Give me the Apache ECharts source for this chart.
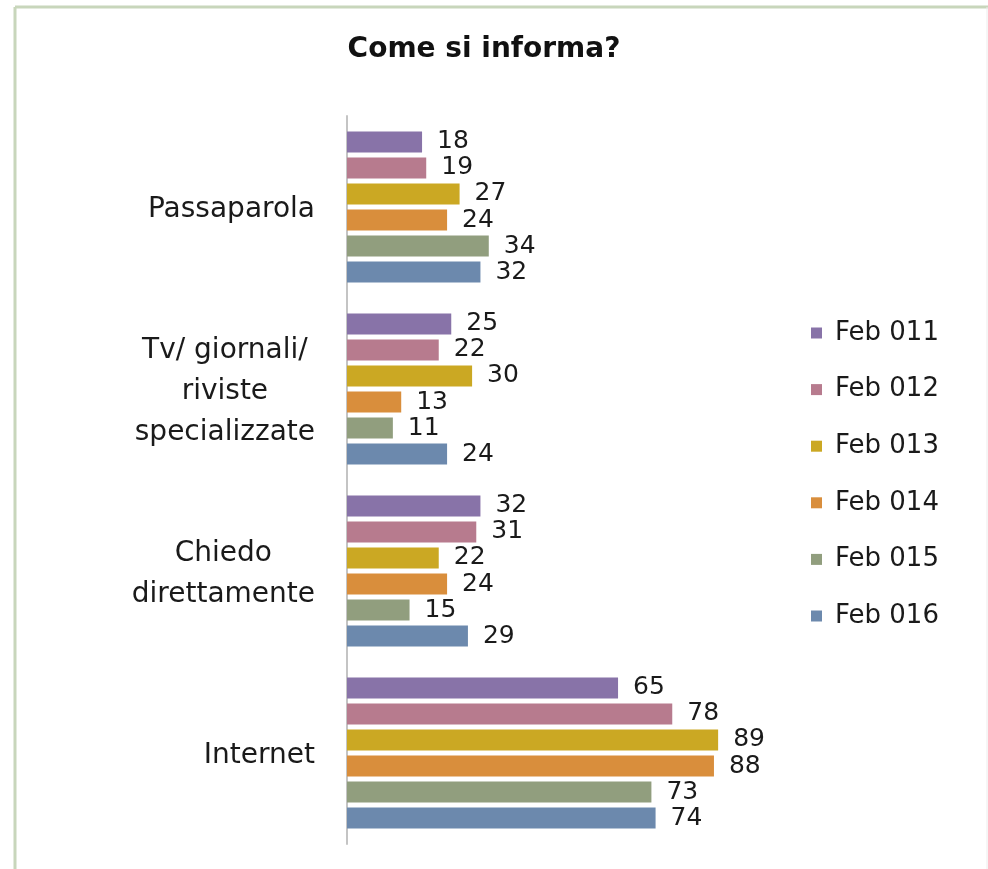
<!DOCTYPE html>
<html lang="it">
<head>
    <meta charset="UTF-8">
    <title>Come si informa?</title>
    <script src="https://cdn.jsdelivr.net/npm/echarts@6/dist/echarts.min.js"></script>
    <style>
        html, body {
            margin: 0;
            padding: 0;
            background: #fff;
        }
    </style>
</head>
<body>
<div id="main" style="width: 988px;height: 869px"></div>
<script>
    // dati
    var categorie = ['Passaparola', 'Tv/ giornali/\nriviste\nspecializzate', 'Chiedo\ndirettamente', 'Internet'];
    var serieNomi = ['Feb 011', 'Feb 012', 'Feb 013', 'Feb 014', 'Feb 015', 'Feb 016'];
    var feb011 = [18, 25, 32, 65];
    var feb012 = [19, 22, 31, 78];
    var feb013 = [27, 30, 22, 89];
    var feb014 = [24, 13, 24, 88];
    var feb015 = [34, 11, 15, 73];
    var feb016 = [32, 24, 29, 74];
    var valori = [feb011, feb012, feb013, feb014, feb015, feb016];

    var colori = ['#8873a8', '#b77b8e', '#cba823', '#d98e3c', '#919e7e', '#6c89ad'];
    var font = 'DejaVu Sans';

    var myChart = echarts.init(document.getElementById('main'));

    var series = [];
    for (var i = 0; i < serieNomi.length; i++) {
        series.push({
            name: serieNomi[i],
            type: 'bar',
            data: valori[i],
            barWidth: 21,
            barGap: '24%',
            itemStyle: {color: colori[i]},
            label: {
                show: true,
                position: 'right',
                distance: 15,
                color: '#1a1a1a',
                fontFamily: font,
                fontSize: 25
            }
        });
    }

    var option = {
        backgroundColor: '#fff',
        color: colori,
        animation: false,
        title: {
            text: 'Come si informa?',
            left: 479,
            top: 31,
            textAlign: 'center',
            textStyle: {
                fontFamily: font,
                fontWeight: 'bold',
                fontSize: 28,
                color: '#111'
            }
        },
        legend: {
            orient: 'vertical',
            left: 806,
            top: 315,
            itemWidth: 11,
            itemHeight: 11,
            itemGap: 30.6,
            icon: 'rect',
            data: serieNomi,
            textStyle: {
                fontFamily: font,
                fontSize: 26,
                color: '#1a1a1a',
                padding: [0, 0, 0, 8]
            }
        },
        grid: {
            left: 347,
            right: 224,
            top: 116,
            bottom: 25,
            containLabel: false
        },
        xAxis: {
            type: 'value',
            min: 0,
            max: 100,
            show: false
        },
        yAxis: {
            type: 'category',
            inverse: true,
            data: categorie,
            axisLine: {lineStyle: {color: '#c4c4c4', width: 2}},
            axisTick: {show: false},
            axisLabel: {
                margin: 32,
                fontFamily: font,
                fontSize: 28,
                color: '#1a1a1a',
                lineHeight: 41,
                padding: [6, 0, 0, 0],
                formatter: function (v) {
                    return v.split('\n').map(function (r) {
                        return '{c|' + r + '}';
                    }).join('\n');
                },
                rich: {
                    c: {align: 'center', fontFamily: font, fontSize: 28, lineHeight: 41, color: '#1a1a1a'}
                }
            }
        },
        graphic: [
            {type: 'line', shape: {x1: 15, y1: 7, x2: 988, y2: 7}, style: {stroke: '#c8d6bb', lineWidth: 3}},
            {type: 'line', shape: {x1: 15, y1: 7, x2: 15, y2: 869}, style: {stroke: '#c8d6bb', lineWidth: 3}},
            {type: 'line', shape: {x1: 987, y1: 7, x2: 987, y2: 869}, style: {stroke: '#ececec', lineWidth: 1}}
        ],
        series: series
    };

    myChart.setOption(option);
</script>
</body>
</html>
